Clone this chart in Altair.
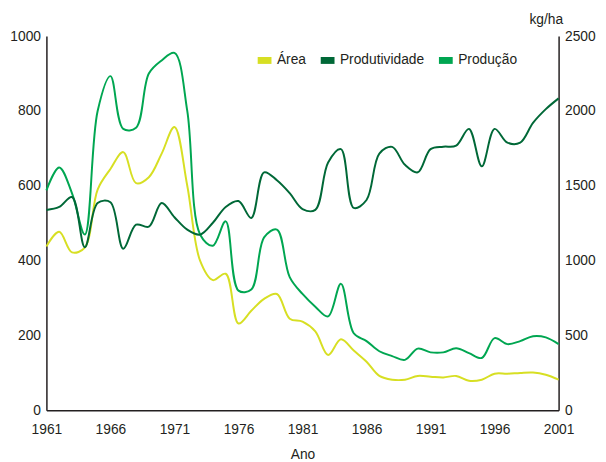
import altair as alt
import pandas as pd

anos = list(range(1961, 2002))

area = [438, 477, 422, 435, 590, 645, 690, 607, 623, 686,
        757, 600, 400, 348, 365, 232, 266, 298, 311, 245,
        237, 211, 148, 190, 160, 130, 92, 82, 82, 92,
        90, 88, 92, 79, 82, 98, 98, 100, 101, 95, 82]

producao = [588, 649, 580, 470, 800, 893, 752, 755, 900, 935,
            955, 800, 470, 440, 505, 320, 323, 462, 483, 356,
            311, 277, 251, 338, 206, 185, 158, 145, 135, 165,
            155, 155, 166, 153, 140, 193, 177, 185, 198, 195, 177]

produtividade = [1339, 1359, 1425, 1090, 1385, 1390, 1080, 1240, 1227, 1385,
                 1290, 1207, 1174, 1253, 1359, 1398, 1285, 1590, 1537, 1451,
                 1345, 1339, 1656, 1745, 1352, 1405, 1715, 1760, 1640, 1590,
                 1745, 1761, 1768, 1880, 1630, 1880, 1788, 1788, 1920, 2012, 2084]

series = ["Área", "Produtividade", "Produção"]
cores = ["#d7df23", "#006837", "#00a651"]
x_ticks = [1961, 1966, 1971, 1976, 1981, 1986, 1991, 1996, 2001]
left_ticks = [0, 200, 400, 600, 800, 1000]
right_ticks = [0, 500, 1000, 1500, 2000, 2500]

df = pd.DataFrame({"Ano": anos, "Área": area, "Produção": producao,
                   "Produtividade": produtividade})
long = df.melt("Ano", var_name="Série", value_name="Valor")

FONT = "Liberation Sans"

color = alt.Color(
    "Série:N",
    scale=alt.Scale(domain=series, range=cores),
    legend=alt.Legend(
        title=None, orient="none", direction="horizontal",
        legendX=211, legendY=14,
        symbolType="stroke", symbolSize=196, symbolStrokeWidth=7,
        labelFontSize=14, labelFont=FONT, labelColor="#231f20",
        labelOffset=2, columnPadding=0, padding=0,
    ),
)

x = alt.X(
    "Ano:Q",
    scale=alt.Scale(domain=[1961, 2001], nice=False, zero=False),
    axis=alt.Axis(values=x_ticks, format="d", title="Ano", labelPadding=12,
                  titlePadding=12, titleFontWeight="normal", titleFontSize=14,
                  labelFlush=False),
)

left = alt.Chart(long).transform_filter(
    "datum['Série'] != 'Produtividade'"
).mark_line(interpolate="catmull-rom", strokeWidth=2).encode(
    x=x,
    y=alt.Y("Valor:Q", scale=alt.Scale(domain=[0, 1000], nice=False),
            axis=alt.Axis(values=left_ticks, format="d", title=None,
                          orient="left", labelPadding=6)),
    color=color,
)

right = alt.Chart(long).transform_filter(
    "datum['Série'] == 'Produtividade'"
).mark_line(interpolate="catmull-rom", strokeWidth=2).encode(
    x=x,
    y=alt.Y("Valor:Q", scale=alt.Scale(domain=[0, 2500], nice=False),
            axis=alt.Axis(values=right_ticks, format="d", title="kg/ha",
                          orient="right", labelPadding=6, titleAngle=0,
                          titleX=-13, titleY=-17,
                          titleAlign="center", titleBaseline="middle",
                          titleFontWeight="normal", titleFontSize=14)),
    color=color,
)

chart = alt.layer(left, right).resolve_scale(y="independent").properties(
    width=520, height=380,
    padding={"left": 39, "top": 25, "right": 40, "bottom": 55},
    autosize=alt.AutoSizeParams(type="none"),
).configure_view(stroke=None).configure_axis(
    grid=False, ticks=False, domainColor="#231f20", domainWidth=1.5,
    labelFont=FONT, labelFontSize=14, labelColor="#231f20",
    titleFont=FONT, titleColor="#231f20",
)

chart.save("out.html", embed_options={"renderer": "svg", "actions": False})
